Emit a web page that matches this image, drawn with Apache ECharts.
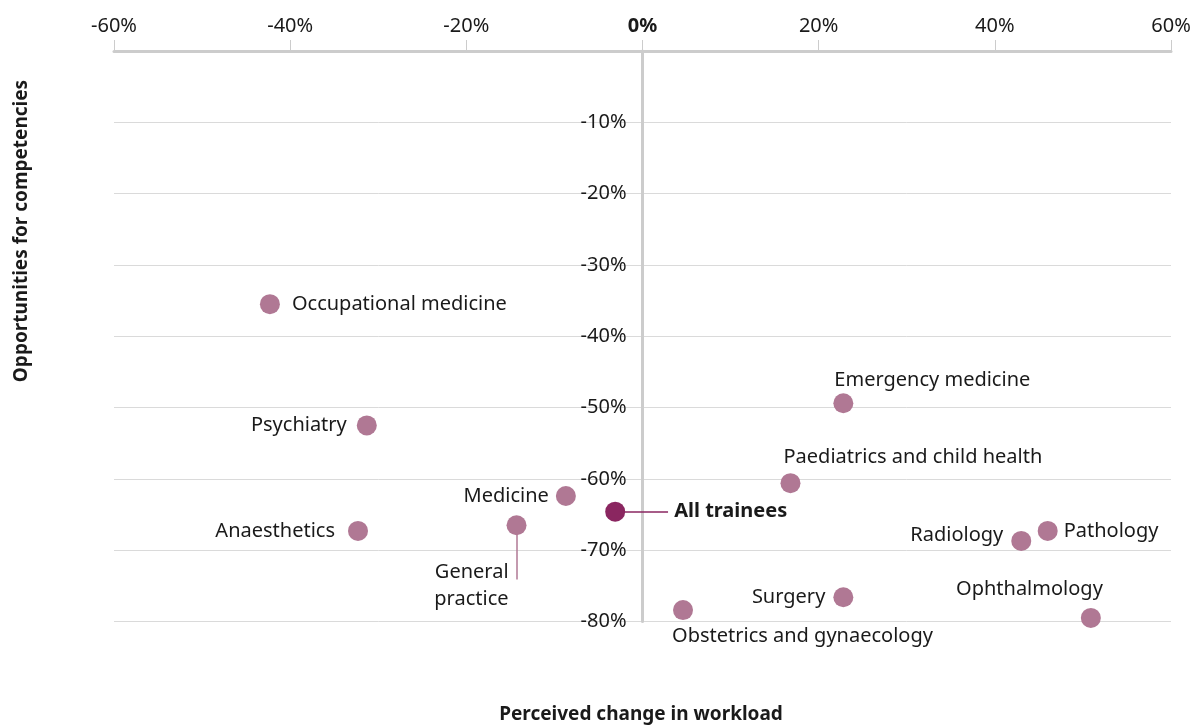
<!DOCTYPE html>
<html>
<head>
<meta charset="utf-8">
<title>Workload vs opportunities for competencies</title>
<script src="https://cdn.jsdelivr.net/npm/echarts@6/dist/echarts.min.js"></script>
<style>
  html, body { margin: 0; padding: 0; background: #ffffff; }
  #chart { width: 1194px; height: 726px; }
</style>
</head>
<body>
<div id="chart"></div>
<script>
/* Specialties: perceived change in workload (x) vs opportunities for competencies (y) */
var specialties = ['Occupational medicine', 'Psychiatry', 'Anaesthetics', 'Medicine', 'General practice',
    'All trainees', 'Obstetrics and gynaecology', 'Surgery', 'Emergency medicine',
    'Paediatrics and child health', 'Radiology', 'Pathology', 'Ophthalmology'];
var workload = [-42.3, -31.3, -32.3, -8.7, -14.3, -3.1, 4.6, 22.8, 22.8, 16.8, 43.0, 46.0, 50.9];
var competencies = [-35.5, -52.5, -67.3, -62.4, -66.5, -64.6, -78.4, -76.6, -49.4, -60.6, -68.7, -67.3, -79.5];
var xTicks = [-60, -40, -20, 0, 20, 40, 60];
var yTicks = [-80, -70, -60, -50, -40, -30, -20, -10, 0];

var MAUVE = '#b07894';
var PLUM = '#8a2660';
var TEXT = '#1a1a1a';
var FONT = '"Noto Sans", "Open Sans", sans-serif';
var FS = 20;
var DOT = 20;
var GRID_LEFT = 114;

// label anchor: side of the text, offset of that edge from the dot centre
var labelPlace = {
    'Occupational medicine': ['left', 22, 0],
    'Psychiatry': ['right', -20, 0],
    'Anaesthetics': ['right', -23, 0],
    'Medicine': ['right', -17, 0],
    'General practice': ['right', -8, 61],
    'All trainees': ['left', 59, 0],
    'Obstetrics and gynaecology': ['left', -11, 26],
    'Surgery': ['right', -18, 0],
    'Emergency medicine': ['left', -9, -23],
    'Paediatrics and child health': ['left', -7, -26],
    'Radiology': ['right', -18, -6],
    'Pathology': ['left', 16, 0],
    'Ophthalmology': ['right', 12, -29]
};

function pct(v) { return v + '%'; }

var points = specialties.map(function (name, i) {
    var p = labelPlace[name];
    var isAll = name === 'All trainees';
    return {
        name: name,
        value: [workload[i], competencies[i]],
        itemStyle: { color: isAll ? PLUM : MAUVE, opacity: 1 },
        label: {
            show: true,
            formatter: name === 'General practice' ? 'General\npractice' : name,
            position: [p[1] + DOT / 2, p[2] + DOT / 2],
            align: p[0],
            verticalAlign: 'middle',
            fontWeight: isAll ? 'bold' : 'normal',
            lineHeight: 27
        }
    };
});

// leader lines for the two labels that sit away from their dot
var gp = specialties.indexOf('General practice');
var all = specialties.indexOf('All trainees');
var leaders = [
    [{ coord: [workload[gp], competencies[gp]], lineStyle: { color: MAUVE } },
     { coord: [workload[gp], competencies[gp] - 7.6] }],
    [{ coord: [workload[all], competencies[all]], lineStyle: { color: PLUM } },
     { coord: [workload[all] + 6, competencies[all]] }]
];

var chart = echarts.init(document.getElementById('chart'));
var option = {
    animation: false,
    textStyle: { fontFamily: FONT },
    grid: { left: GRID_LEFT, right: 23, top: 51, bottom: 104.5 },
    xAxis: {
        type: 'value',
        position: 'top',
        min: xTicks[0],
        max: xTicks[xTicks.length - 1],
        interval: 20,
        axisLine: { onZero: false, lineStyle: { color: '#cccccc', width: 3 } },
        axisTick: { show: true, length: 11, lineStyle: { color: '#cccccc', width: 1 } },
        splitLine: { show: false },
        axisLabel: {
            margin: 15,
            fontSize: FS,
            color: TEXT,
            formatter: function (v) { return v === 0 ? '{b|0%}' : pct(v); },
            rich: { b: { fontSize: FS, fontWeight: 'bold', color: TEXT, fontFamily: FONT } }
        }
    },
    yAxis: {
        type: 'value',
        min: yTicks[0],
        max: yTicks[yTicks.length - 1],
        interval: 10,
        axisLine: { onZero: false, lineStyle: { color: '#cccccc', width: 3 } },
        axisTick: { show: false },
        splitLine: { show: true, lineStyle: { color: '#dadada', width: 1 } },
        axisLabel: {
            margin: 16,
            fontSize: FS,
            color: TEXT,
            formatter: function (v) { return v === 0 ? '' : pct(v); }
        }
    },
    graphic: [
        {
            type: 'text', x: 22, y: 231, rotation: Math.PI / 2,
            style: { text: 'Opportunities for competencies', fill: TEXT, font: 'bold 19px ' + FONT,
                     align: 'center', verticalAlign: 'middle' }
        },
        {
            type: 'text', x: 641, y: 715,
            style: { text: 'Perceived change in workload', fill: TEXT, font: 'bold 19px ' + FONT,
                     align: 'center', verticalAlign: 'middle' }
        }
    ],
    series: [{
        type: 'scatter',
        symbolSize: DOT,
        data: points,
        label: { fontSize: FS, color: TEXT, fontFamily: FONT },
        markLine: {
            silent: true,
            symbol: 'none',
            label: { show: false },
            lineStyle: { type: 'solid', width: 1.5 },
            data: leaders,
            z: 1
        }
    }]
};
chart.setOption(option);

// move the y axis (line and labels) onto x = 0
var zeroX = chart.convertToPixel({ gridIndex: 0 }, [0, 0])[0];
chart.setOption({ yAxis: { offset: GRID_LEFT - zeroX } });
</script>
</body>
</html>
